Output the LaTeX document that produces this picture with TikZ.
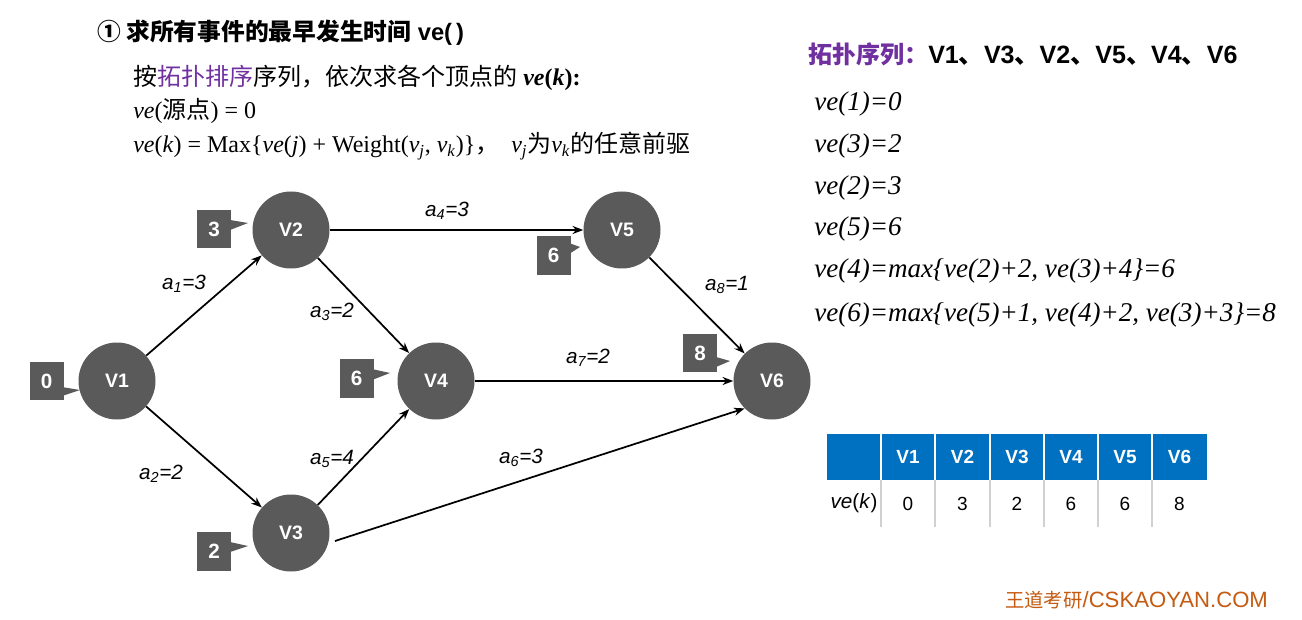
\documentclass[tikz,border=0pt]{standalone}
\usepackage{fontspec}
\setmainfont{Liberation Sans}
\newfontfamily\tnr{Liberation Serif}
\newfontfamily\cjk{Noto Sans CJK SC}
\usetikzlibrary{arrows.meta,calc}
\definecolor{ngray}{HTML}{5A5A5A}
\definecolor{purp}{HTML}{7030A0}
\definecolor{tblue}{HTML}{0070C0}
\definecolor{brn}{HTML}{C55A11}
\definecolor{lgray}{HTML}{D0D0D0}
\newcommand{\vsubx}[1]{\textit{v}\textsubscript{\textit{#1}}}
\newcommand{\elabx}[2]{a\textsubscript{#1}=#2}
\tikzset{
  vtx/.style={circle, fill=ngray, minimum size=57.75pt, inner sep=0pt, text=white, font=\fontsize{14.6}{16}\selectfont\bfseries},
  cbox/.style={fill=ngray, minimum width=25.5pt, minimum height=29pt, inner sep=0pt, text=white, font=\fontsize{15.5}{17}\selectfont\bfseries},
  edge/.style={-{Stealth[length=8pt,width=6pt]}, line width=1.3pt, black},
  elab/.style={font=\fontsize{15.5}{17}\selectfont\itshape, inner sep=0pt},
  vetxt/.style={anchor=base west, inner sep=0pt, font=\tnr\fontsize{20.3}{22}\selectfont\itshape},
  lefttxt/.style={anchor=base west, inner sep=0pt, font=\tnr\fontsize{18}{20}\selectfont},
  hcell/.style={text=white, font=\fontsize{14.25}{16}\selectfont\bfseries, inner sep=0pt},
  bcell/.style={text=black, font=\fontsize{14.25}{16}\selectfont, inner sep=0pt}
}
\begin{document}
\begin{tikzpicture}[x=0.75pt,y=-0.75pt]
\useasboundingbox (0,0) rectangle (1302,620);
\fill[white] (0,0) rectangle (1302,620);

% title
\node[anchor=base west, inner sep=0pt, font=\fontsize{17.8}{20}\selectfont\bfseries] (title) at (97,41)
  {{\cjk ①\ 求所有事件的最早发生时间} ve(\,)};

% left block
\node[lefttxt] (l1) at (133,86)
  {{\cjk 按{\color{purp}拓扑排序}序列，依次求各个顶点的} {\bfseries\itshape ve}{\bfseries (}{\bfseries\itshape k}{\bfseries ):}};
\node[lefttxt] (l2) at (133,119) {\textit{ve}({\cjk 源点}) = 0};
\node[lefttxt] (l3) at (133,153)
  {\textit{ve}(\textit{k}) = Max\{\textit{ve}(\textit{j}) + Weight(\vsubx{j}, \vsubx{k})\}{\cjk ，}\ \ \vsubx{j}{\cjk 为}\vsubx{k}{\cjk 的任意前驱}};

% right block
\node[anchor=base west, inner sep=0pt, font=\fontsize{18}{20}\selectfont\bfseries] (topo) at (808,64)
  {{\cjk\color{purp}拓扑序列：}{\fontsize{18.8}{20}\selectfont V1{\cjk 、}V3{\cjk 、}V2{\cjk 、}V5{\cjk 、}V4{\cjk 、}V6}};
\node[vetxt] (r1) at (814,111) {ve(1)=0};
\node[vetxt] (r2) at (814,153) {ve(3)=2};
\node[vetxt] (r3) at (814,195) {ve(2)=3};
\node[vetxt] (r4) at (814,236) {ve(5)=6};
\node[vetxt] (r5) at (814,277) {ve(4)=max\{ve(2)+2, ve(3)+4\}=6};
\node[vetxt] (r6) at (814,321) {ve(6)=max\{ve(5)+1, ve(4)+2, ve(3)+3\}=8};

% vertices
\node[vtx] (v1) at (117,381) {V1};
\node[vtx] (v2) at (291,230) {V2};
\node[vtx] (v3) at (291,533) {V3};
\node[vtx] (v4) at (436,381) {V4};
\node[vtx] (v5) at (622,230) {V5};
\node[vtx] (v6) at (772,381) {V6};

% callout boxes
\node[cbox] (b1) at (46.5,381) {0};
\fill[ngray] (62,387) -- (80,390) -- (62,396) -- cycle;
\node[cbox] (b2) at (214,229) {3};
\fill[ngray] (230,220) -- (248,223) -- (230,230) -- cycle;
\node[cbox] (b3) at (214,551.5) {2};
\fill[ngray] (230,542) -- (248,546) -- (230,552) -- cycle;
\node[cbox] (b4) at (356.5,378.5) {6};
\fill[ngray] (372,369) -- (390,373) -- (372,380) -- cycle;
\node[cbox] (b5) at (553.5,255.5) {6};
\fill[ngray] (569,243) -- (580,247) -- (569,254) -- cycle;
\node[cbox] (b6) at (700,353) {8};
\fill[ngray] (716,357) -- (730,361) -- (716,367) -- cycle;

% edges
\coordinate (s36) at (335,541);
\draw[edge] (v1) -- (v2);
\draw[edge] (v1) -- (v3);
\draw[edge] (v2) -- (v5);
\draw[edge] (v2) -- (v4);
\draw[edge] (v3) -- (v4);
\draw[edge] (s36) -- (v6.-135);
\draw[edge] (v4) -- (v6);
\draw[edge] (v5) -- (v6);

% edge labels
\node[elab] (e1) at (184,284) {\elabx{1}{3}};
\node[elab] (e2) at (161,474) {\elabx{2}{2}};
\node[elab] (e3) at (332,312) {\elabx{3}{2}};
\node[elab] (e4) at (447,211) {\elabx{4}{3}};
\node[elab] (e5) at (332,459) {\elabx{5}{4}};
\node[elab] (e6) at (521,458) {\elabx{6}{3}};
\node[elab] (e7) at (588,358) {\elabx{7}{2}};
\node[elab] (e8) at (727,285) {\elabx{8}{1}};

% table
\fill[tblue] (827,434) rectangle (1207,480);
\foreach \xx in {881,935,990,1044,1098,1152} {
  \draw[white, line width=1.2pt] (\xx,434) -- (\xx,480);
  \draw[lgray, line width=1pt] (\xx,480) -- (\xx,527);
}
\node[hcell] (h1) at (908,457) {V1};
\node[hcell] (h2) at (962.5,457) {V2};
\node[hcell] (h3) at (1017,457) {V3};
\node[hcell] (h4) at (1071,457) {V4};
\node[hcell] (h5) at (1125,457) {V5};
\node[hcell] (h6) at (1179.5,457) {V6};
\node[bcell, font=\fontsize{15.5}{17}\selectfont] (c0) at (854,503) {\textit{ve}(\textit{k})};
\node[bcell] (c1) at (908,504) {0};
\node[bcell] (c2) at (962.5,504) {3};
\node[bcell] (c3) at (1017,504) {2};
\node[bcell] (c4) at (1071,504) {6};
\node[bcell] (c5) at (1125,504) {6};
\node[bcell] (c6) at (1179.5,504) {8};

% footer
\node[anchor=base west, inner sep=0pt, text=brn] (foot) at (1005,607)
  {{\cjk\fontsize{14.5}{16}\selectfont 王道考研}{\fontsize{16.6}{19}\selectfont /CSKAOYAN.COM}};
\end{tikzpicture}
\end{document}
